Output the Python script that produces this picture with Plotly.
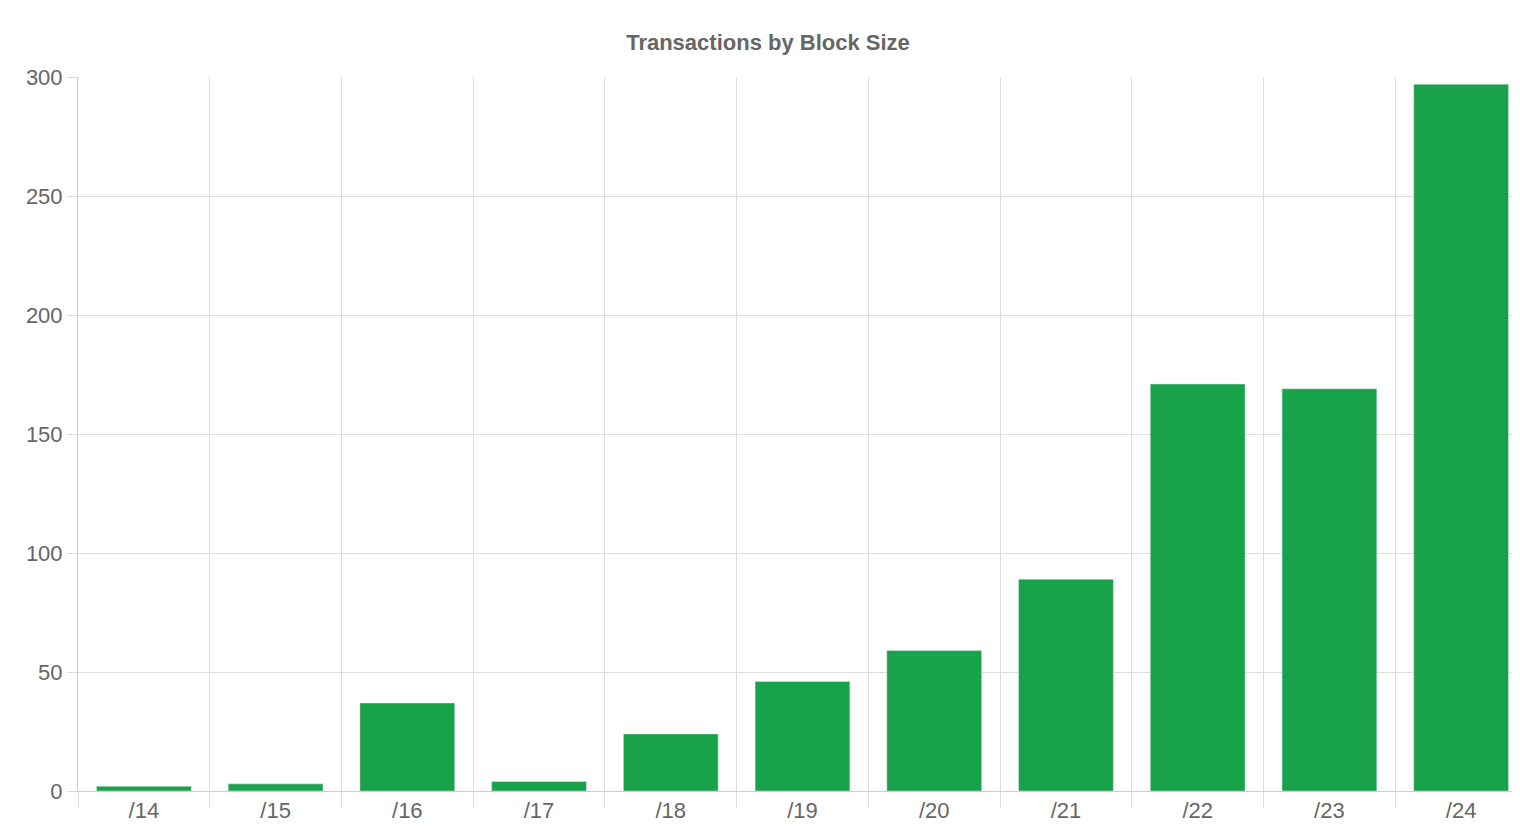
import plotly.graph_objects as go

categories = ["/14", "/15", "/16", "/17", "/18", "/19", "/20", "/21", "/22", "/23", "/24"]
values = [2, 3, 37, 4, 24, 46, 59, 89, 171, 169, 297]
y_ticks = [0, 50, 100, 150, 200, 250, 300]

idx = list(range(len(categories)))
fig = go.Figure(go.Bar(x=idx, y=values, marker_color="#18a34a", width=0.72))
font = dict(family="Liberation Sans, Arial, sans-serif", size=22, color="#666666")
fig.update_layout(
    width=1520, height=840, paper_bgcolor="white", plot_bgcolor="white",
    margin=dict(l=70, r=1, t=69, b=57), showlegend=False,
    title=dict(text="<b>Transactions by Block Size</b>", x=0.5, xanchor="center", y=1 - 34/840, yanchor="middle",
               font=dict(family="Liberation Sans, Arial, sans-serif", size=22, color="#666666")),
    font=font,
)
fig.update_xaxes(range=[-0.5, len(categories) - 0.5], tickvals=idx, ticktext=categories, showgrid=False,
                 ticks="", tickfont=font, showline=True, linecolor="#cccccc", linewidth=1,
                 minor=dict(tickvals=[i - 0.5 for i in range(len(categories) + 1)], showgrid=True,
                            gridcolor="#dddddd", gridwidth=1, ticks="outside", ticklen=16, tickcolor="#dddddd"),
                 zeroline=False)
fig.update_yaxes(range=[0, 300], tickvals=y_ticks, gridcolor="#dddddd", tickfont=font, showline=True,
                 linecolor="#cccccc", zeroline=False, ticks="outside", ticklen=10, tickcolor="#dddddd")
fig.write_html("out.html")
